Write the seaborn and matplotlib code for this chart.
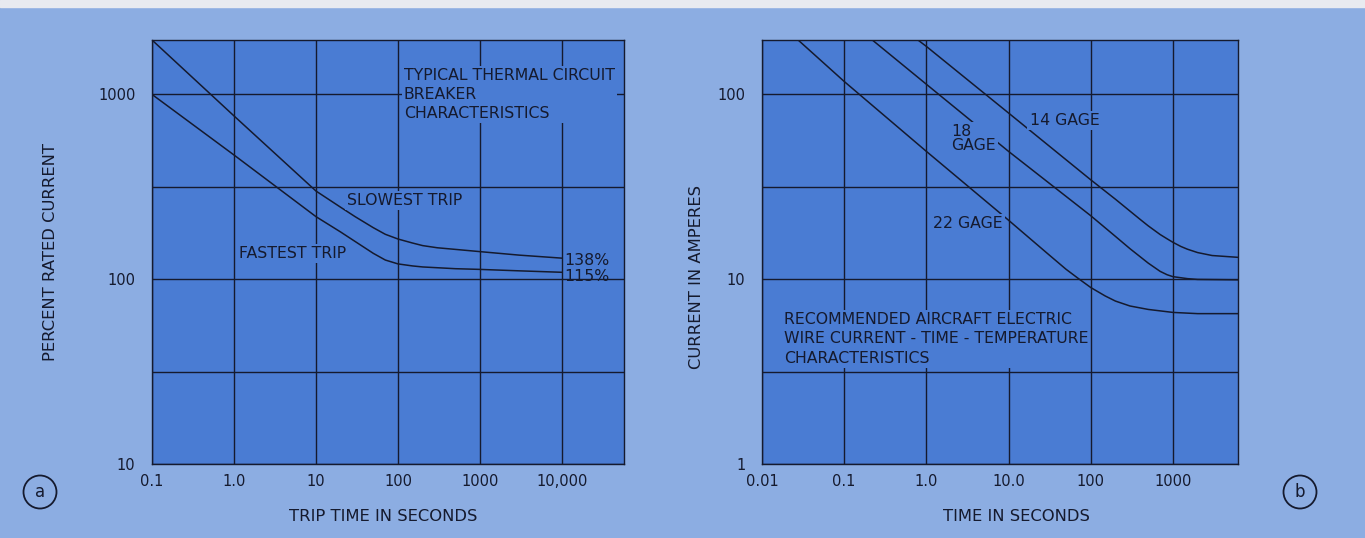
import numpy as np
import pandas as pd
import seaborn as sns
import matplotlib.pyplot as plt
from matplotlib.patches import Rectangle

# ---- data ----
# (a) thermal circuit breaker
trip_time_slow = [0.1, 1, 10, 20, 30, 50, 70, 100, 150, 200, 300, 500, 1000, 3000, 10000]
pct_slow = [1970, 765, 300, 245, 218, 190, 175, 165, 157, 152, 148, 145, 141, 135, 130]
trip_time_fast = [0.1, 1, 10, 20, 30, 50, 70, 100, 150, 200, 500, 1000, 3000, 10000]
pct_fast = [1000, 470, 218, 180, 160, 138, 127, 121, 118, 116.5, 114, 113, 111, 109]

# (b) wire current-time
time_14 = [0.79, 1, 10, 100, 200, 400, 500, 700, 850, 1000, 1250, 1500, 2000, 3000, 6200]
amps_14 = [196, 181, 79, 34.4, 27, 21, 19.4, 17.4, 16.5, 15.8, 15.0, 14.5, 13.9, 13.4, 13.1]
time_18 = [0.22, 1, 10, 100, 200, 300, 500, 700, 850, 1000, 1500, 2000, 6200]
amps_18 = [196, 113, 49, 22, 17, 14.6, 12.2, 11.0, 10.55, 10.3, 10.05, 9.95, 9.9]
time_22 = [0.0275, 0.1, 1, 10, 30, 50, 70, 100, 150, 200, 300, 500, 1000, 2000, 6200]
amps_22 = [196, 117, 49, 20.8, 13.7, 11.3, 10.1, 9.0, 8.1, 7.6, 7.15, 6.85, 6.6, 6.5, 6.5]

a_xticks = [0.1, 1, 10, 100, 1000, 10000]
a_xlabels = ['0.1', '1.0', '10', '100', '1000', '10,000']
a_yticks = [10, 100, 1000]
a_ylabels = ['10', '100', '1000']
b_xticks = [0.01, 0.1, 1, 10, 100, 1000]
b_xlabels = ['0.01', '0.1', '1.0', '10.0', '100', '1000']
b_yticks = [1, 10, 100]
b_ylabels = ['1', '10', '100']

BG = '#8cade2'
FACE = '#4a7cd3'
INK = '#151a2e'

sns.set_theme(style='white')
plt.rcParams['font.family'] = ['DejaVu Sans']

fig = plt.figure(figsize=(13.65, 5.38), dpi=100, facecolor=BG)
ax1 = fig.add_axes([152/1365, 1 - 464/538, 472/1365, 424/538])
ax2 = fig.add_axes([762/1365, 1 - 464/538, 476/1365, 424/538])

# scan strip on top
fig.add_artist(Rectangle((0, 1 - 7/538), 1, 7/538, transform=fig.transFigure,
                         color='#e8eaf0', zorder=0))

df_a = pd.concat([
    pd.DataFrame({'t': trip_time_slow, 'p': pct_slow, 'curve': 'slowest'}),
    pd.DataFrame({'t': trip_time_fast, 'p': pct_fast, 'curve': 'fastest'}),
])
df_b = pd.concat([
    pd.DataFrame({'t': time_14, 'a': amps_14, 'gage': '14'}),
    pd.DataFrame({'t': time_18, 'a': amps_18, 'gage': '18'}),
    pd.DataFrame({'t': time_22, 'a': amps_22, 'gage': '22'}),
])

sns.lineplot(data=df_a, x='t', y='p', units='curve', estimator=None, sort=False,
             color=INK, lw=1.1, ax=ax1, legend=False)
sns.lineplot(data=df_b, x='t', y='a', units='gage', estimator=None, sort=False,
             color=INK, lw=1.1, ax=ax2, legend=False)

for ax in (ax1, ax2):
    ax.set_xscale('log')
    ax.set_yscale('log')
    ax.set_facecolor(FACE)
    for s in ax.spines.values():
        s.set_color(INK)
        s.set_linewidth(1.0)
    ax.tick_params(length=0, colors=INK, labelsize=10.5)
    ax.tick_params(axis='x', pad=7)
    ax.tick_params(axis='y', pad=12)
    ax.minorticks_off()

ax1.set_xlim(0.1, 57000)
ax1.set_ylim(10, 1970)
ax2.set_xlim(0.01, 6200)
ax2.set_ylim(1, 196)

ax1.set_xticks(a_xticks, a_xlabels)
ax1.set_yticks(a_yticks, a_ylabels)
ax2.set_xticks(b_xticks, b_xlabels)
ax2.set_yticks(b_yticks, b_ylabels)

# grid lines: every decade in x, every half decade in y
for ax, xs, ys in ((ax1, a_xticks, [10, 31.6, 100, 316, 1000]),
                   (ax2, b_xticks, [1, 3.16, 10, 31.6, 100])):
    for x in xs:
        ax.axvline(x, color=INK, lw=1.0, zorder=1)
    for y in ys:
        ax.axhline(y, color=INK, lw=1.0, zorder=1)

lab = dict(color=INK, fontsize=11.8)
ax1.set_xlabel('TRIP TIME IN SECONDS', **lab)
ax1.set_ylabel('PERCENT RATED CURRENT', **lab)
ax1.xaxis.set_label_coords(0.49, -0.105)
ax1.yaxis.set_label_coords(-0.2, 0.5)
ax2.set_xlabel('TIME IN SECONDS', **lab)
ax2.set_ylabel('CURRENT IN AMPERES', **lab)
ax2.xaxis.set_label_coords(0.534, -0.105)
ax2.yaxis.set_label_coords(-0.122, 0.44)

box = dict(facecolor=FACE, edgecolor='none', pad=1.5)
txt = dict(color=INK, fontsize=11.3, zorder=3)

ax1.text(118, 1000, 'TYPICAL THERMAL CIRCUIT\nBREAKER\nCHARACTERISTICS',
         va='center', ha='left', linespacing=1.3, bbox=box, **txt)
ax1.text(24, 266, 'SLOWEST TRIP', va='center', ha='left', bbox=box, **txt)
ax1.text(1.16, 138, 'FASTEST TRIP', va='center', ha='left', bbox=box, **txt)
ax1.text(10500, 127, '138%', va='center', ha='left', **txt)
ax1.text(10500, 104, '115%', va='center', ha='left', **txt)

ax2.text(18, 72, '14 GAGE', va='center', ha='left', bbox=box, **txt)
ax2.text(2.0, 57.5, '18\nGAGE', va='center', ha='left', linespacing=0.95, bbox=box, **txt)
ax2.text(1.2, 20, '22 GAGE', va='center', ha='left', bbox=box, **txt)
ax2.text(0.0185, 4.75, 'RECOMMENDED AIRCRAFT ELECTRIC\nWIRE CURRENT - TIME - TEMPERATURE\nCHARACTERISTICS',
         va='center', ha='left', linespacing=1.35, bbox=box, **txt)

circ = dict(boxstyle='circle,pad=0.45', facecolor='none', edgecolor=INK, lw=1.3)
fig.text(40/1365, 1 - 492/538, 'a', ha='center', va='center', fontsize=12,
         color=INK, bbox=circ)
fig.text(1300/1365, 1 - 492/538, 'b', ha='center', va='center', fontsize=12,
         color=INK, bbox=circ)

fig.savefig('out.png', dpi=100, facecolor=BG)
